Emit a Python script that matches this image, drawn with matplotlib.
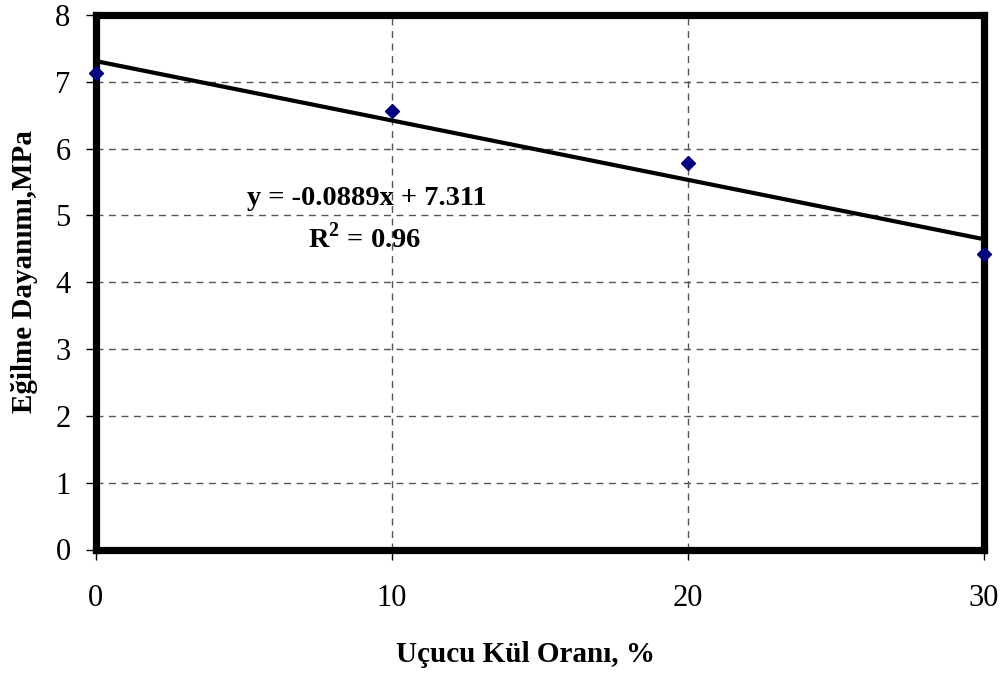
import matplotlib
matplotlib.use("Agg")
import matplotlib.pyplot as plt
import numpy as np

# Fly ash ratio (%) vs flexural strength (MPa)
ash_ratio = [0, 10, 20, 30]
flexural_strength = [7.13, 6.57, 5.78, 4.43]
x_ticks = [0, 10, 20, 30]
y_ticks = [0, 1, 2, 3, 4, 5, 6, 7, 8]

plt.rcParams["font.family"] = ["Liberation Serif", "DejaVu Serif"]
plt.rcParams["mathtext.fontset"] = "custom"
plt.rcParams["mathtext.rm"] = "Liberation Serif"
plt.rcParams["mathtext.bf"] = "Liberation Serif:bold"

W, H = 1005, 675
fig = plt.figure(figsize=(W / 100, H / 100), dpi=100)
ax = fig.add_axes([95.5 / W, 1 - 549.5 / H, (984 - 95.5) / W, (549.5 - 15) / H])

# linear trendline fitted to the measurements
slope, intercept = np.polyfit(ash_ratio, flexural_strength, 1)
xs = np.array([0, 30])
ax.plot(xs, slope * xs + intercept, color="black", lw=3.0, zorder=3,
        solid_capstyle="butt")

ax.plot(ash_ratio, flexural_strength, linestyle="none", marker="D",
        markersize=7.6, color="#000080", zorder=5, clip_on=False)

ax.set_xlim(0, 30)
ax.set_ylim(0, 8)
ax.set_xticks(x_ticks)
ax.set_yticks(y_ticks)
ax.tick_params(axis="both", labelsize=22, direction="out", length=7,
               width=1, color="black")
ax.tick_params(axis="x", pad=18)
ax.tick_params(axis="y", pad=11)

ax.grid(True, linestyle=(0, (5, 4)), color="#555555", lw=1)
ax.set_axisbelow(True)

for s in ax.spines.values():
    s.set_linewidth(5.2)
    s.set_color("black")
    s.set_zorder(4)

fig.text(366.5 / W, 1 - 205 / H, "y = -0.0889x + 7.311",
         ha="center", va="baseline", fontsize=20.5, fontweight="bold")
fig.text(364.5 / W, 1 - 248 / H, r"R$^{\mathbf{2}}$ = 0.96",
         ha="center", va="baseline", fontsize=20.5, fontweight="bold")

fig.text(525 / W, 1 - 655 / H, "Uçucu Kül Oranı, %", ha="center", va="center",
         fontsize=21, fontweight="bold")
fig.text(25 / W, 1 - 272 / H, "Eğilme Dayanımı,MPa", ha="center", va="center",
         rotation=90, fontsize=21, fontweight="bold")

fig.savefig("out.png", dpi=100)
